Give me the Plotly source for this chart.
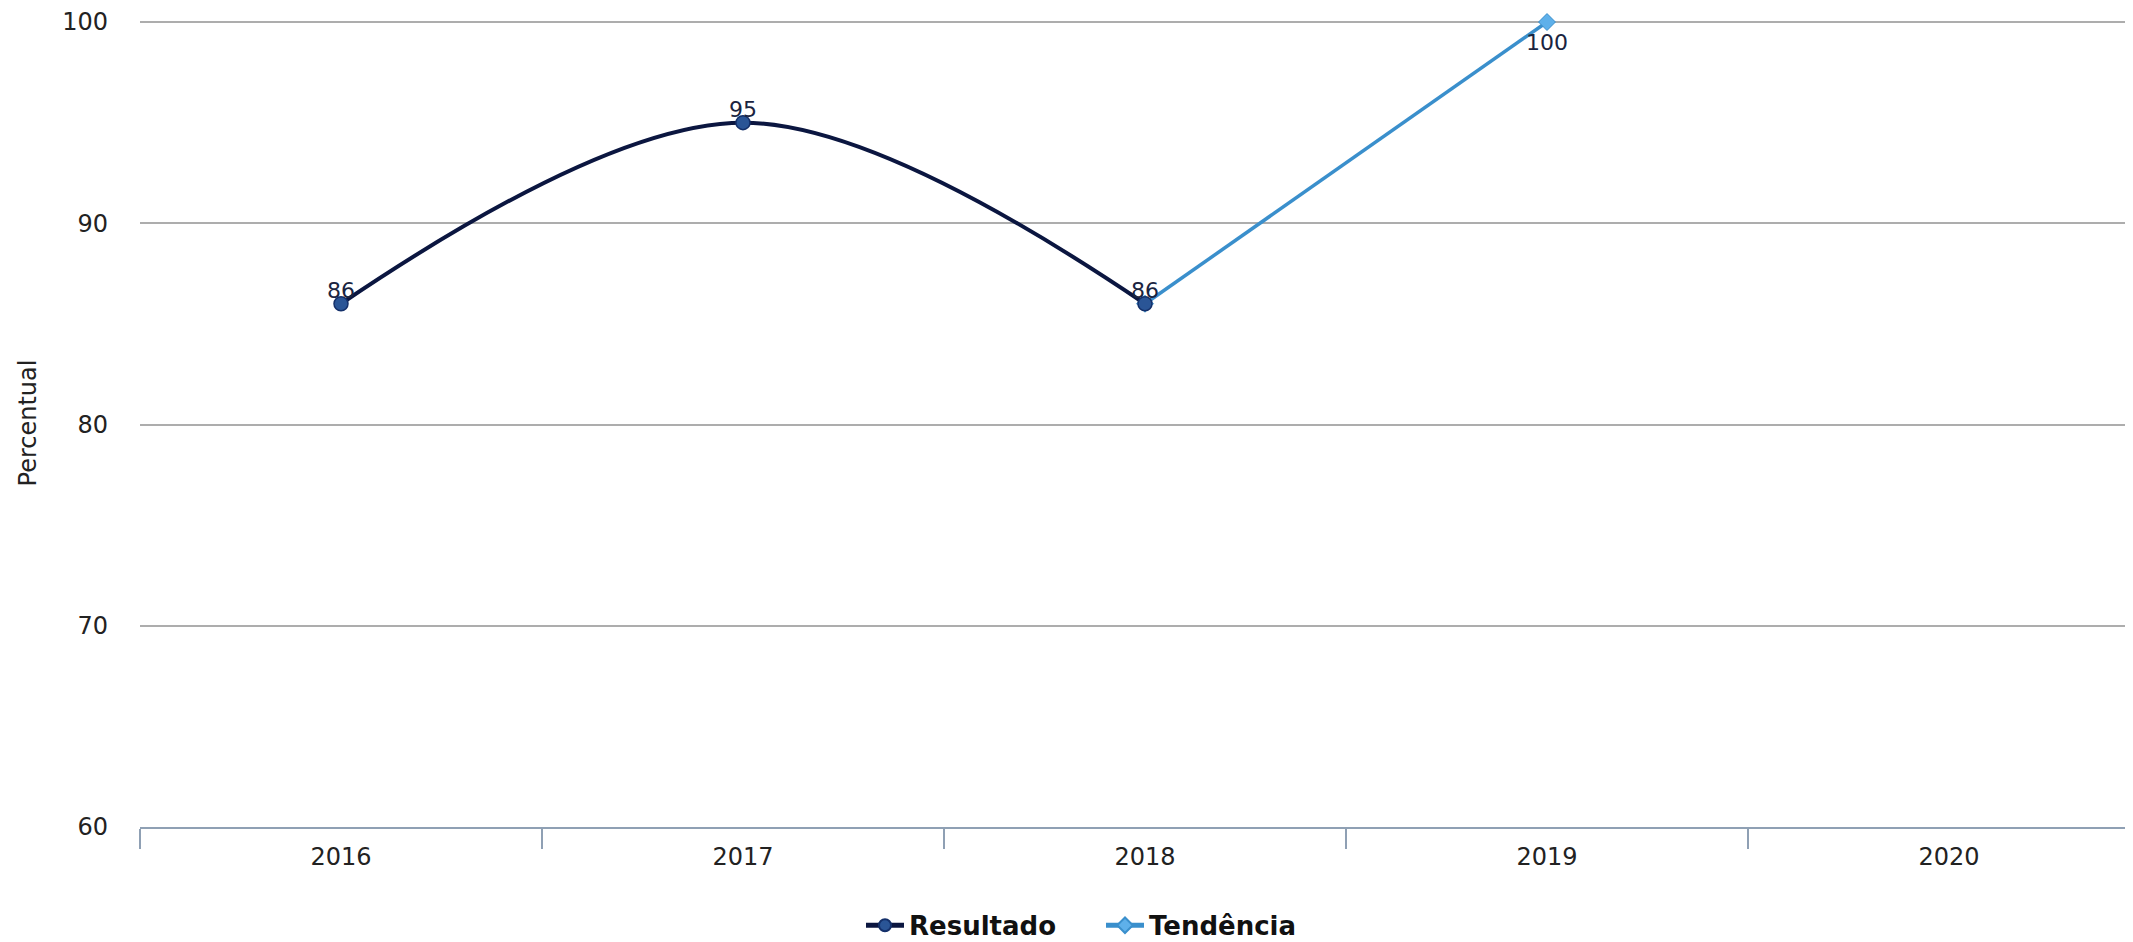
import plotly.graph_objects as go

categories = ["2016", "2017", "2018", "2019", "2020"]
resultado = [86, 95, 86, None, None]
tendencia = [None, None, 86, 100, None]
resultado_labels = ["86", "95", "86", "", ""]
tendencia_labels = ["", "", "", "100", ""]
y_ticks = [60, 70, 80, 90, 100]

# page body has an 8px margin, so offsets are compensated
W, H = 2133, 942
L, R, B = 132, 0, 123
y_min, y_max = 60, 100.15
px_per_unit = (827 - 22) / 40.0
T = 14 - round((y_max - 100) * px_per_unit)
cat_w = 402.0
x_max = (W - L - R) / cat_w - 0.5

fig = go.Figure()

fig.add_trace(go.Scatter(
    x=categories, y=tendencia, name="Tendência", mode="lines+markers",
    line=dict(color="#3a8fcc", width=3.5),
    marker=dict(symbol="diamond", size=13, color="#5eb0ea",
                line=dict(color="#3a8fcc", width=1)),
    legendrank=2, cliponaxis=False,
))

fig.add_trace(go.Scatter(
    x=categories, y=resultado, name="Resultado", mode="lines+markers",
    line=dict(color="#0b1640", width=4, shape="spline", smoothing=1.0),
    marker=dict(symbol="circle", size=14, color="#2a5596",
                line=dict(color="#14306a", width=1.5)),
    legendrank=1, cliponaxis=False,
))

fig.add_trace(go.Scatter(
    x=categories, y=resultado, mode="text", text=resultado_labels,
    textposition="top center", showlegend=False, hoverinfo="skip",
    textfont=dict(family="DejaVu Sans", size=22, color="#1a2440"),
    cliponaxis=False,
))

fig.add_trace(go.Scatter(
    x=categories, y=tendencia, mode="markers+text", text=tendencia_labels,
    textposition="bottom center", showlegend=False, hoverinfo="skip",
    marker=dict(size=16, color="rgba(0,0,0,0)"),
    textfont=dict(family="DejaVu Sans", size=22, color="#1a2440"),
    cliponaxis=False,
))

fig.update_layout(
    width=W, height=H,
    margin=dict(l=L, r=R, t=T, b=B, autoexpand=False),
    paper_bgcolor="white", plot_bgcolor="white",
    font=dict(family="DejaVu Sans", size=24, color="#222222"),
    showlegend=True,
    legend=dict(orientation="h", xanchor="left", yanchor="middle",
                x=(861 - 8 - L) / (W - L - R),
                y=-(925 - 827) / (827 - 22),
                font=dict(family="DejaVu Sans", size=26, color="#111111",
                          weight="bold"),
                itemwidth=38,
                entrywidth=187, entrywidthmode="pixels",
                itemsizing="constant", traceorder="normal",
                bgcolor="rgba(0,0,0,0)"),
    xaxis=dict(type="category", categoryorder="array", categoryarray=categories,
               range=[-0.5, x_max], showgrid=False, zeroline=False,
               showline=True, linecolor="#8fa0b4", linewidth=2,
               ticks="outside", tickson="boundaries", ticklen=20,
               tickcolor="#8fa0b4", tickwidth=2, ticklabelstandoff=7,
               tickfont=dict(family="DejaVu Sans", size=24, color="#222222"),
               fixedrange=True),
    yaxis=dict(range=[y_min, y_max], tickvals=y_ticks,
               ticktext=[str(v) for v in y_ticks],
               showgrid=True, gridcolor="#adadad", gridwidth=2,
               zeroline=False, showline=False, ticks="",
               ticklabelstandoff=31,
               tickfont=dict(family="DejaVu Sans", size=24, color="#222222"),
               title=dict(text="Percentual", standoff=18,
                          font=dict(family="DejaVu Sans", size=24, color="#222222")),
               automargin=False, fixedrange=True),
)

fig.write_html("out.html", config={"displayModeBar": False})
